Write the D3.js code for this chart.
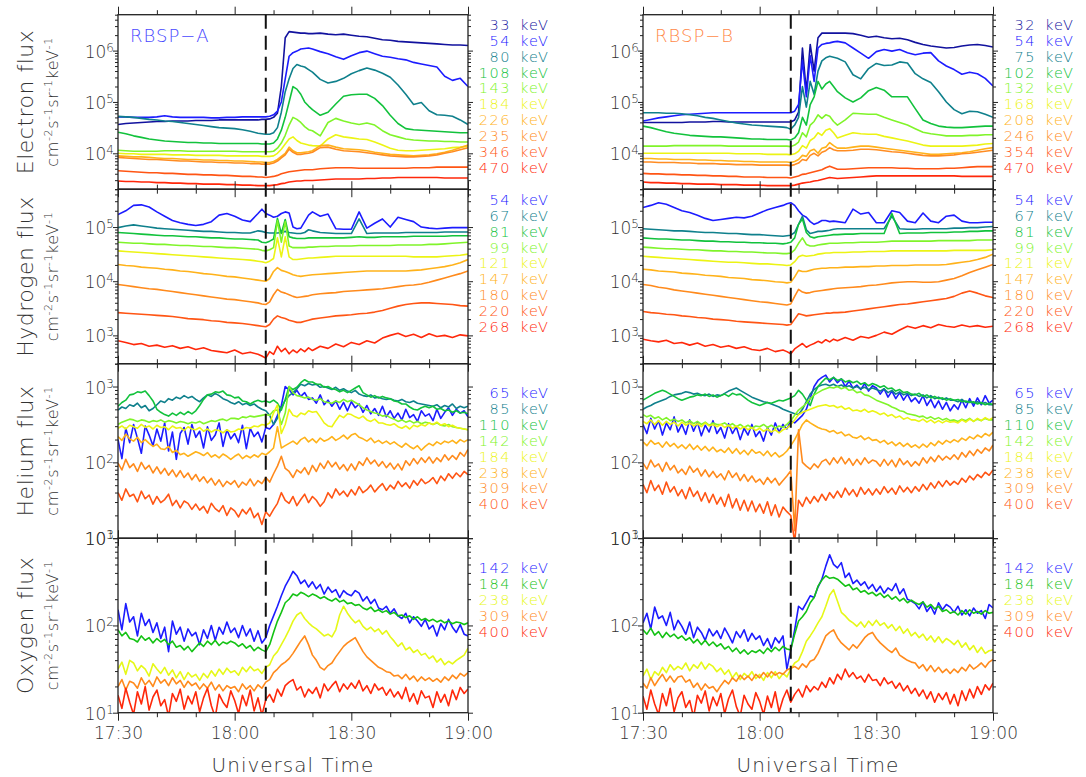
<!DOCTYPE html>
<html>
<head>
<meta charset="utf-8">
<script src="https://d3js.org/d3.v7.min.js"></script>
<style>
  body { margin: 0; background: #fff; }
  text { font-family: "DejaVu Sans", sans-serif; font-weight: 200; }
</style>
</head>
<body>
<svg id="chart" width="1086" height="777"></svg>
<script>
// sample times, minutes after 17:30 UT
var tCoarse = [0,2,4,6,8,10,12,14,16,18,20,22,24,26,28,30,32,34,36,37,38,39,40,41,42,43,44,45,46,47,48,49,50,52,54,56,58,60,62,64,66,68,70,72,74,76,78,80,82,84,86,88,90];
var tFine = d3.range(0, 91);
var onsetMin = 38; // 18:08 UT
var xMajor = [0, 30, 60, 90];
var xMinor = [10, 20, 40, 50, 70, 80];
var xTickLabels = ["17:30", "18:00", "18:30", "19:00"];

// all flux values below: log10(flux) x 100
// ---- electrons, RBSP-A
var eA33 = [456,458,459,460,461,462,462,463,463,463,464,464,464,465,465,465,465,465,465, 466,466,467,470,478,530,625,637,636,635,634,634,633,633, 634,632,631,632,630,628,627,624,621,620,618,617,616,615,614,613,612,611,611,610];
var eA54 = [471,471,470,470,470,471,473,471,470,470,470,470,469,469,470,470,471,471,471, 471,471,472,475,482,500,545,589,596,599,603,604,605,603, 598,594,588,583,590,596,599,594,589,587,584,582,577,574,571,568,550,542,546,530];
var eA80 = [472,471,470,468,466,465,463,462,460,458,456,454,452,450,449,448,446,443,439, 438,437,437,440,450,480,520,545,565,573,570,568,563,558, 544,537,540,546,555,561,566,562,556,548,533,515,495,499,483,475,474,472,465,456];
var eA108 = [441,438,434,431,428,426,424,423,422,421,421,420,420,419,419,419,419,419,419, 418,418,418,420,428,445,470,500,530,525,515,500,492,485, 474,480,496,511,514,515,515,507,493,474,458,448,446,445,444,443,442,441,440,440];
var eA143 = [406,405,404,404,404,404,405,405,405,404,404,404,404,404,404,404,403,403,403, 403,403,403,404,410,420,435,455,470,466,460,452,446,444, 434,460,468,463,459,456,459,455,444,436,432,428,426,425,424,424,423,423,422,422];
var eA184 = [400,399,399,398,398,398,398,397,397,397,396,396,396,396,395,395,395,395,395, 394,394,394,395,400,408,418,428,432,425,420,418,416,415, 414,428,436,432,430,428,427,422,416,410,406,405,405,406,407,408,409,411,412,414];
var eA226 = [395,394,393,393,392,391,390,390,389,388,388,387,387,386,386,385,385,384,383, 383,382,382,384,388,394,400,412,405,401,401,402,403,405, 415,416,412,409,408,407,405,402,400,398,397,396,395,396,397,399,402,406,411,416];
var eA235 = [392,391,390,389,388,388,387,386,385,385,384,383,383,382,382,381,381,380,380, 379,379,379,381,385,391,397,408,402,398,398,399,400,402, 411,412,408,405,404,403,401,399,397,395,394,393,393,394,395,397,400,403,407,411];
var eA346 = [366,365,364,363,362,362,361,361,360,359,359,358,358,357,357,356,355,355,354, 354,353,354,355,357,360,362,364,365,366,367,368,368,368, 370,371,372,372,372,371,371,371,371,371,371,371,372,372,372,373,373,373,373,373];
var eA470 = [346,345,345,344,344,343,343,342,342,341,341,340,340,340,339,339,338,338,337, 337,337,337,338,339,341,342,344,345,346,346,347,347,347, 348,349,350,350,350,350,351,351,352,352,353,353,353,353,353,353,352,352,352,352];

// ---- electrons, RBSP-B
var eB32 = [460,460,460,460,460,460,461,461,461,462,462,461,461,461,461,461,461,461,461, 461,461,465,480,605,520,612,560,625,634,634,634,634,634, 634,633,630,626,628,625,623,624,621,616,612,609,607,605,606,609,611,612,610,607];
var eB54 = [463,466,469,471,473,475,476,477,478,479,479,479,479,479,479,479,479,479,479, 479,479,482,495,580,510,590,540,605,612,614,615,617,618, 615,605,595,585,598,602,599,602,596,592,595,596,580,570,563,554,558,555,546,531];
var eB75 = [479,479,479,478,478,477,475,473,470,468,465,462,459,457,455,454,453,452,451, 450,447,455,470,530,490,540,515,560,580,586,589,587,585, 578,553,545,565,575,571,572,578,576,555,545,538,520,500,485,477,482,481,476,470];
var eB102 = [453,450,446,442,439,437,435,434,433,432,432,431,430,429,428,428,427,427,427, 427,426,430,440,470,455,495,510,540,525,535,540,530,520, 508,500,508,522,528,523,510,510,510,487,465,458,453,451,450,450,451,452,453,453];
var eB132 = [414,414,414,414,415,415,415,415,415,415,415,414,414,414,414,414,414,414,414, 414,413,416,422,440,432,455,462,475,468,475,472,462,455, 465,478,477,476,476,470,465,460,455,448,441,438,436,434,434,434,435,435,436,436];
var eB168 = [400,400,400,400,400,400,400,400,400,400,400,400,399,399,399,399,398,398,398, 398,397,399,404,415,410,425,430,440,435,445,448,440,430, 435,440,438,437,437,433,430,427,424,420,416,414,414,414,414,414,415,416,418,419];
var eB208 = [390,390,389,389,388,388,388,387,387,386,386,385,385,384,384,383,383,383,383, 383,382,384,388,396,394,405,408,400,410,412,421,415,410, 410,412,414,414,412,410,408,406,404,402,400,398,398,399,400,401,403,406,409,411];
var eB246 = [383,383,382,382,382,381,381,380,380,380,379,379,378,378,378,377,377,377,377, 377,376,378,381,388,386,396,400,395,402,405,411,407,405, 405,406,408,408,407,405,403,402,400,398,396,395,395,396,397,399,400,402,404,406];
var eB354 = [361,360,360,359,359,358,358,357,357,356,356,355,355,354,354,354,353,353,353, 353,352,354,356,359,360,362,364,366,368,372,375,372,369, 369,370,371,372,372,372,372,371,371,370,370,370,370,371,371,372,373,374,374,374];
var eB470 = [344,343,343,342,342,341,341,340,340,340,339,339,339,338,338,338,337,337,337, 337,337,338,340,342,343,344,346,347,349,351,353,352,351, 352,353,354,355,356,356,356,356,356,356,356,356,356,356,356,355,355,355,355,355];

// ---- hydrogen, RBSP-A
var hA54 = [523,530,540,541,537,528,520,512,508,505,503,505,510,522,525,520,513,510,525, 533,525,522,518,520,525,528,526,500,497,498,510,522,528, 520,524,497,496,496,528,498,507,515,500,518,514,510,500,498,497,498,499,499,499];
var hA67 = [499,502,504,502,500,498,497,496,495,494,493,492,492,491,490,490,489,489,493, 492,490,489,489,489,490,492,490,489,488,488,490,495,493, 490,489,488,488,488,515,488,489,489,489,489,490,490,490,490,490,491,491,491,491];
var hA81 = [490,489,488,487,486,485,484,484,483,482,482,481,480,480,479,478,478,477,476, 472,471,474,478,516,488,514,482,480,479,479,479,480,480, 480,480,480,480,481,482,481,481,482,482,482,482,483,483,483,483,483,484,484,484];
var hA99 = [472,471,470,470,469,468,468,467,466,466,465,464,464,463,462,462,461,460,459, 457,456,458,462,512,472,510,465,462,462,462,462,463,463, 464,464,465,465,465,466,466,466,466,466,467,467,467,467,468,468,469,470,471,472];
var hA121 = [456,455,454,453,452,451,450,449,448,447,446,445,444,443,442,441,440,439,437, 436,434,437,442,480,445,482,445,440,440,441,442,443,443, 444,445,446,446,446,446,446,446,446,446,446,446,445,445,445,445,446,447,448,450];
var hA147 = [431,429,428,426,425,424,422,421,419,418,416,414,413,411,409,408,406,404,402, 401,400,405,418,425,420,418,415,412,410,409,410,411,412, 413,414,415,416,417,418,419,419,419,419,419,419,420,421,423,425,427,430,434,440];
var hA180 = [394,392,390,388,386,385,383,381,379,377,375,373,371,369,367,366,364,362,360, 358,357,362,375,385,380,378,375,372,370,371,372,373,375, 377,378,379,381,382,383,384,385,386,388,390,392,393,395,398,402,406,410,414,419];
var hA220 = [342,341,340,339,338,337,336,335,333,331,330,329,327,326,324,323,322,320,318, 317,316,320,330,336,333,331,328,326,324,324,326,328,330, 332,334,336,337,338,340,341,343,346,350,354,357,359,360,360,359,358,357,355,354];
var hA268 = [290,287,283,285,280,282,278,281,276,279,274,277,272,270,268,273,266,269,265, 262,258,270,265,280,270,276,266,273,268,275,270,277,272, 280,276,284,279,287,283,290,286,295,300,304,298,302,296,303,298,300,296,301,299];

// ---- hydrogen, RBSP-B
var hB54 = [536,540,545,542,536,530,527,522,516,512,514,516,518,517,520,526,532,536,540, 543,545,540,530,522,518,510,505,508,512,512,510,511,510, 508,533,524,527,508,508,530,527,511,508,526,511,508,520,522,511,508,508,509,509];
var hB67 = [497,496,495,494,493,493,492,491,490,490,489,488,488,487,486,486,485,484,483, 484,485,490,505,520,495,488,490,492,492,493,494,496,497, 497,497,497,497,497,497,520,497,496,496,497,497,497,497,498,498,499,499,500,501];
var hB81 = [480,479,478,478,477,476,476,475,474,474,473,473,472,472,471,471,470,470,469, 470,472,480,505,515,490,482,480,482,483,484,485,486,486, 487,487,488,488,488,488,525,488,489,489,489,490,490,490,491,491,492,492,493,493];
var hB99 = [463,462,461,460,460,459,458,458,457,456,456,455,455,454,454,453,452,452,451, 451,452,458,470,480,468,465,465,467,468,469,470,470,470, 471,471,472,472,472,473,474,474,474,474,474,474,475,475,475,475,475,476,476,476];
var hB121 = [446,445,444,443,442,441,440,439,438,437,436,435,435,434,433,432,432,431,430, 429,430,436,445,448,446,447,448,450,451,452,452,453,453, 453,454,454,455,455,455,456,456,456,456,456,456,456,456,457,457,457,457,457,458];
var hB147 = [422,421,419,418,417,415,414,413,411,410,409,407,406,405,403,402,401,399,398, 397,398,408,420,418,418,420,422,423,424,424,425,425,425, 426,426,427,427,428,428,429,429,429,430,430,430,430,431,433,435,437,440,444,450];
var hB180 = [394,392,389,387,384,382,380,378,376,374,372,370,368,366,364,362,361,359,357, 356,358,372,385,380,378,379,381,382,383,384,385,386,387, 388,389,390,392,393,395,397,398,399,399,398,398,399,402,405,410,416,421,426,431];
var hB220 = [344,342,341,339,338,336,335,333,332,330,329,328,326,325,324,323,322,321,320, 319,320,330,340,338,336,337,338,339,340,341,341,342,342, 343,345,347,349,351,353,355,357,358,360,362,364,366,368,372,378,382,378,373,370];
var hB268 = [293,290,288,291,285,287,282,286,280,283,278,281,276,279,274,272,276,270,273, 270,266,275,280,285,278,282,285,289,286,292,288,293,290, 296,291,298,295,300,306,302,310,317,313,318,314,320,317,315,319,316,318,315,317];

// ---- helium, RBSP-A (1-min samples)
var heA65 = [230,205,245,226,250,232,212,248,236,222, 244,228,252,215,240,204,238,246,224,250, 233,241,219,247,229,236,252,221,243,231, 238,226,249,218,245,234,240,227,246,244, 250,262,275,300,296,289,295,287,292,283, 285,278,289,276,282,274,281,270,279,268, 280,272,277,266,275,264,271,262,274,260, 268,258,265,256,270,259,263,254,268,261, 264,255,270,258,266,272,262,270,265,268, 260];
var heA85 = [269,273,271,276,274,278,272,275,268,271, 276,281,279,284,282,286,284,288,285,287, 283,280,285,289,287,291,288,284,282,279, 277,280,276,278,275,277,273,270,268,262, 250,258,272,282,288,292,297,303,301,304, 302,303,299,300,298,296,299,295,297,294, 292,295,290,288,287,289,285,286,284,283, 284,282,281,283,280,279,281,278,277,276, 275,274,276,272,275,273,277,271,274,272, 274];
var heA110 = [274,279,282,289,290,293,292,294,288,281, 270,266,263,261,265,262,266,263,267,264, 268,275,283,289,290,293,292,294,289,288, 285,286,281,280,277,280,282,280,281,279, 282,278,269,283,300,296,299,305,309,306, 306,303,303,299,300,297,296,293,295,292, 295,298,301,292,289,286,288,285,287,285, 284,281,280,277,277,273,270,269,272,274, 272,274,270,271,268,269,266,268,265,266, 264];
var heA142 = [250,253,255,257,256,254,256,255,253,255, 254,256,253,255,254,252,254,253,251,253, 252,254,251,253,255,254,256,257,255,258, 258,257,260,259,261,260,261,262,263,262, 268,269,250,265,300,292,288,287,285,286, 283,282,284,280,279,278,281,279,283,280, 282,279,276,272,269,267,265,264,261,262, 259,257,254,256,253,255,252,254,251,253, 252,250,252,249,248,250,247,246,245,244, 243];
var heA184 = [245,248,244,249,247,245,250,246,248,244, 249,246,247,243,248,245,246,242,247,244, 243,246,241,244,240,243,242,239,243,240, 241,244,243,246,245,248,247,250,249,252, 265,276,238,250,270,262,260,265,263,268, 266,267,260,252,248,247,255,262,259,264, 263,260,258,261,256,254,257,252,252,250, 249,251,247,245,248,244,249,247,250,248, 252,250,253,249,251,247,249,246,245,244, 243];
var heA238 = [234,229,237,231,228,233,226,230,225,221, 224,218,217,221,213,216,210,212,208,211, 214,212,209,213,207,210,206,211,208,204, 208,211,205,209,206,210,207,212,210,214, 219,247,219,222,225,228,224,230,233,227, 231,226,232,228,230,234,229,232,236,231, 236,238,233,231,228,232,226,229,225,228, 224,227,223,220,225,221,218,222,216,221, 225,222,227,224,228,226,229,225,230,227, 230];
var heA309 = [199,190,204,193,198,188,200,191,196,186, 194,185,192,183,190,181,189,180,186,177, 184,175,181,173,179,170,177,168,175,171, 176,167,174,170,178,169,176,172,180,174, 185,195,208,192,188,180,190,186,193,184, 196,188,199,192,202,194,200,191,197,189, 198,190,201,196,206,198,203,195,201,193, 199,191,198,190,202,196,205,198,206,200, 207,199,206,201,210,203,209,204,213,208, 217];
var heA400 = [160,150,165,155,158,148,162,152,157,145, 155,147,151,158,143,150,140,149,146,138, 145,137,142,133,146,139,135,143,130,140, 136,128,138,132,140,127,133,118,135,129, 138,146,160,150,146,155,143,151,158,147, 155,150,142,148,160,153,165,157,162,155, 164,157,168,160,164,170,161,167,172,163, 170,165,175,168,173,166,176,170,178,172, 175,180,172,182,176,185,179,186,181,188, 184];

// ---- helium, RBSP-B
var heB65 = [250,238,258,244,255,236,252,243,260,240, 250,237,256,241,253,235,249,240,255,238, 246,232,251,238,247,230,245,236,250,234, 241,228,246,236,252,240,250,244,255,252, 257,262,270,285,300,308,312,315,306,312, 305,310,300,307,298,302,296,304,294,301, 298,290,297,286,294,284,292,282,290,280, 285,278,288,275,283,272,281,270,279,268, 276,270,282,272,284,274,285,276,288,278, 282];
var heB85 = [270,273,275,278,280,282,284,287,289,290, 291,293,292,290,291,289,288,290,287,289, 288,291,294,296,298,295,292,289,286,284, 282,280,279,277,275,273,270,268,266,264, 263,270,280,290,296,300,302,303,301,303, 300,302,299,301,298,300,297,299,296,298, 296,294,297,292,295,290,293,289,291,288, 290,287,289,285,288,284,286,283,285,282, 282,280,283,279,281,278,280,277,279,276, 276];
var heB110 = [282,285,288,291,293,295,293,290,287,284, 282,284,286,287,289,288,290,287,289,286, 288,290,287,291,289,290,286,282,279,277, 275,277,279,278,280,282,281,283,285,288, 295,290,282,275,290,300,306,311,309,312, 308,310,306,308,305,307,303,305,301,304, 302,299,301,297,298,294,296,292,293,290, 289,291,287,289,285,287,284,285,282,284, 282,283,280,281,279,280,277,279,276,278, 276];
var heB142 = [263,260,262,258,260,256,259,255,257,254, 256,252,255,251,254,250,253,249,252,250, 250,252,248,251,247,250,246,249,245,248, 247,250,246,249,245,248,246,250,255,262, 269,273,278,284,289,292,295,297,299,298, 300,297,299,295,296,292,293,289,288,285, 282,280,278,276,273,271,268,267,264,263, 262,260,261,258,260,257,259,256,258,255, 256,254,257,255,258,254,257,255,258,256, 256];
var heB184 = [254,251,256,250,255,249,254,250,253,248, 253,249,252,248,251,247,252,248,250,247, 250,246,249,245,248,244,247,243,246,242, 245,241,244,240,243,239,243,245,250,256, 263,266,268,270,272,274,275,276,274,275, 272,274,270,272,268,269,267,270,266,268, 266,263,265,261,263,259,261,257,259,256, 256,254,257,253,256,252,255,252,255,253, 254,252,256,253,257,254,258,255,259,256, 259];
var heB238 = [227,222,229,224,226,220,227,221,225,219, 223,218,224,217,222,216,221,215,220,214, 217,213,219,212,218,211,216,210,217,212, 214,209,215,208,213,207,210,215,222,230, 240,250,256,252,249,246,244,243,240,242, 238,240,235,237,233,232,235,230,233,229, 230,226,229,224,227,222,226,221,225,220, 223,219,224,220,226,222,228,224,229,226, 230,227,232,229,234,231,236,233,238,235, 240];
var heB309 = [199,191,203,194,198,188,200,190,196,186, 191,184,195,187,192,182,190,181,188,180, 185,177,189,180,186,176,184,175,182,174, 178,171,180,173,179,170,176,182,189,110, 243,200,195,191,198,193,201,204,197,206, 199,207,198,205,196,204,197,206,199,203, 201,195,204,196,203,194,205,197,202,195, 201,196,206,199,207,201,209,203,208,204, 210,204,213,207,215,209,217,212,219,215, 223];
var heB400 = [171,160,176,163,170,158,174,161,168,156, 164,152,167,155,162,149,160,147,158,145, 154,142,158,140,152,137,150,136,149,135, 145,133,148,130,144,128,141,135,130,95, 150,142,154,146,155,148,158,150,160,153, 162,154,166,157,164,155,167,158,165,157, 165,158,168,160,166,158,169,161,167,160, 168,162,171,164,173,166,175,168,176,170, 175,171,179,174,182,177,184,180,187,183, 190];

// ---- oxygen, RBSP-A
var oA142 = [218,195,225,204,210,188,214,200,207,192, 203,185,198,170,205,190,198,182,196,188, 192,178,195,185,200,183,198,190,204,192, 197,186,200,188,196,182,194,180,186,200, 211,222,234,245,253,262,257,248,252,244, 250,242,247,236,244,238,241,232,240,236, 234,240,237,228,233,225,230,220,218,222, 214,219,211,208,214,203,210,205,199,207, 196,200,188,202,195,207,198,192,201,190, 188];
var oA184 = [195,188,192,185,184,181,188,183,186,180, 185,181,184,178,182,175,177,172,176,170, 175,180,176,182,178,183,177,181,179,182, 180,176,179,174,177,171,175,172,170,178, 192,205,215,226,230,236,234,238,236,233, 236,234,231,233,230,228,231,227,229,225, 226,223,224,220,218,221,216,218,215,217, 213,215,211,212,209,211,207,210,206,208, 205,207,204,206,203,205,202,204,203,201, 203];
var oA238 = [150,158,144,160,157,148,154,150,142,156, 150,145,152,143,149,140,147,138,146,141, 144,137,145,140,148,142,150,144,151,146, 148,143,152,147,153,148,150,145,152,155, 165,170,178,186,195,205,212,215,208,203, 199,196,192,188,190,187,195,212,222,214, 208,203,206,199,195,198,193,196,190,194, 187,182,176,180,172,175,169,172,166,168, 162,165,158,162,155,159,156,160,163,166, 174];
var oA309 = [130,138,126,136,134,128,140,132,137,130, 141,134,138,131,140,133,137,129,136,131, 134,127,133,128,135,126,132,125,131,128, 130,124,133,127,131,125,132,128,135,138, 146,150,155,158,162,168,175,182,188,178, 166,160,152,149,154,157,164,170,176,180, 183,186,178,170,164,160,156,152,150,147, 146,142,143,139,144,138,142,136,141,137, 140,136,139,135,141,137,143,139,145,142, 146];
var oA400 = [120,105,128,112,98,124,110,130,103,118, 126,108,115,96,122,113,127,104,119,110, 124,101,117,128,108,95,121,112,106,125, 114,99,120,108,126,102,117,97,115,121, 112,127,119,131,135,138,126,130,118,127, 122,129,117,133,125,131,136,124,133,127, 134,128,137,125,131,122,133,126,129,120, 127,118,124,116,129,113,122,110,125,117, 119,106,124,112,121,108,126,115,129,122, 127];

// ---- oxygen, RBSP-B
var oB142 = [203,214,196,221,208,211,200,215,195,206, 199,190,204,186,198,192,183,196,188,194, 185,197,189,180,193,186,195,182,191,184, 188,177,185,174,186,180,188,150,172,195, 222,218,226,234,232,244,253,268,281,270, 266,272,255,260,248,252,246,250,242,247, 239,245,237,243,240,248,236,242,230,228, 225,219,227,216,222,213,226,218,224,221, 215,222,212,218,211,220,214,217,208,224, 220];
var oB184 = [195,190,197,189,193,186,192,187,190,185, 188,183,186,180,184,178,183,177,181,176, 179,173,176,170,174,168,172,167,171,169, 172,168,174,170,175,171,176,173,172,190, 205,210,216,226,232,245,252,257,254,255, 253,249,245,247,241,243,238,240,236,238, 234,237,232,235,230,233,228,231,226,229, 226,224,227,221,224,219,222,216,218,214, 216,212,217,213,218,214,216,213,217,214, 215];
var oB238 = [142,150,138,147,143,152,146,155,149,153, 150,157,148,155,151,158,150,156,153,147, 151,144,149,140,146,138,145,141,147,139, 144,137,146,140,147,139,145,141,150,157, 160,170,182,188,195,203,210,222,235,241, 228,215,211,206,203,199,204,198,205,200, 206,200,203,197,201,194,199,191,196,188, 192,186,190,183,188,181,187,180,185,182, 178,183,175,180,172,177,169,175,168,171, 172];
var oB309 = [134,128,140,131,138,144,136,142,135,141, 142,135,138,129,134,126,133,128,130,124, 131,137,133,140,136,143,138,142,137,144, 140,146,141,147,143,146,144,149,151,153, 150,156,152,159,161,168,178,188,192,195, 186,180,176,172,178,174,180,186,190,192, 185,180,176,172,169,174,166,163,160,158, 157,151,155,148,154,147,152,146,150,145, 150,146,152,148,155,150,153,157,152,158, 161];
var oB400 = [119,104,126,110,98,122,108,128,101,117, 124,106,114,95,120,111,125,102,118,108, 122,99,116,126,107,96,120,110,104,123, 113,98,119,106,124,101,116,126,112,121, 127,118,131,124,130,126,135,129,140,133, 144,138,150,141,146,139,142,135,144,137, 138,131,140,133,136,128,134,125,131,122, 128,119,126,116,124,112,122,115,123,110, 121,108,125,114,127,117,130,121,132,126, 134];

// channel energies (keV) and colours
var kevEA = [33, 54, 80, 108, 143, 184, 226, 235, 346, 470];
var kevEB = [32, 54, 75, 102, 132, 168, 208, 246, 354, 470];
var kevH = [54, 67, 81, 99, 121, 147, 180, 220, 268];
var kevHe = [65, 85, 110, 142, 184, 238, 309, 400];
var kevO = [142, 184, 238, 309, 400];
var colE = ["#12129e", "#1c1cff", "#0f808c", "#12c23c", "#80f42a", "#ecf414", "#ffb21a", "#ff8c22", "#ff5514", "#ff280a"];
var colH = ["#1c1cff", "#0f808c", "#12c23c", "#80f42a", "#ecf414", "#ffb21a", "#ff8a1c", "#ff5514", "#ff280a"];
var colHe = ["#1c1cff", "#0f808c", "#12c23c", "#80f42a", "#ecf414", "#ffb21a", "#ff8a1c", "#ff5514"];
var colO = ["#1c1cff", "#14c214", "#e6f818", "#ff8a1c", "#ff280a"];
var rowTitles = ["Electron flux", "Hydrogen flux", "Helium flux", "Oxygen flux"];
var unitParts = [["cm", "-2"], ["s", "-1"], ["sr", "-1"], ["keV", "-1"]];

var panels = [
  {row: 0, col: 0, t: tCoarse, dom: [2e3, 5e6], data: [eA33, eA54, eA80, eA108, eA143, eA184, eA226, eA235, eA346, eA470], kev: kevEA, colors: colE},
  {row: 0, col: 1, t: tCoarse, dom: [2e3, 5e6], data: [eB32, eB54, eB75, eB102, eB132, eB168, eB208, eB246, eB354, eB470], kev: kevEB, colors: colE},
  {row: 1, col: 0, t: tCoarse, dom: [3e2, 5e5], data: [hA54, hA67, hA81, hA99, hA121, hA147, hA180, hA220, hA268], kev: kevH, colors: colH},
  {row: 1, col: 1, t: tCoarse, dom: [3e2, 5e5], data: [hB54, hB67, hB81, hB99, hB121, hB147, hB180, hB220, hB268], kev: kevH, colors: colH},
  {row: 2, col: 0, t: tFine, dom: [1e1, 2e3], data: [heA65, heA85, heA110, heA142, heA184, heA238, heA309, heA400], kev: kevHe, colors: colHe},
  {row: 2, col: 1, t: tFine, dom: [1e1, 2e3], data: [heB65, heB85, heB110, heB142, heB184, heB238, heB309, heB400], kev: kevHe, colors: colHe},
  {row: 3, col: 0, t: tFine, dom: [1e1, 1e3], data: [oA142, oA184, oA238, oA309, oA400], kev: kevO, colors: colO},
  {row: 3, col: 1, t: tFine, dom: [1e1, 1e3], data: [oB142, oB184, oB238, oB309, oB400], kev: kevO, colors: colO}
];

// layout
var svg = d3.select("#chart");
var colX = [[118, 468], [643, 993]];
var rowTop = 14.7, rowH = 174.5;
var legendTop = [10.3, 10.8, 29.6, 30.1];
var legendStep = 15.85;
var ink = "#222";

function ticksAxis(axis, vals, size, tr) {
  var a = svg.append("g").attr("transform", tr)
    .call(axis.tickValues(vals).tickSize(size).tickFormat(""));
  a.select(".domain").remove();
  a.selectAll("line").attr("stroke", ink).attr("stroke-width", 1);
  return a;
}

panels.forEach(function(p) {
  var x0 = colX[p.col][0], x1 = colX[p.col][1];
  var top = rowTop + p.row * rowH, bottom = top + rowH;
  var x = d3.scaleLinear().domain([0, 90]).range([x0, x1]);
  var y = d3.scaleLog().domain(p.dom).range([bottom, top]);
  var id = "clip" + p.row + "_" + p.col;

  svg.append("clipPath").attr("id", id).append("rect")
    .attr("x", x0).attr("y", top).attr("width", x1 - x0).attr("height", rowH);

  var line = d3.line()
    .x(function(d) { return x(d[0]); })
    .y(function(d) { return y(Math.pow(10, d[1] / 100)); });

  var g = svg.append("g").attr("clip-path", "url(#" + id + ")");
  p.data.forEach(function(s, i) {
    g.append("path")
      .datum(p.t.map(function(t, j) { return [t, s[j]]; }))
      .attr("d", line)
      .attr("fill", "none")
      .attr("stroke", p.colors[i])
      .attr("stroke-width", 1.6)
      .attr("stroke-linejoin", "round");
  });

  // frame
  svg.append("rect").attr("x", x0).attr("y", top).attr("width", x1 - x0).attr("height", rowH)
    .attr("fill", "none").attr("stroke", ink).attr("stroke-width", 1.3);

  // y ticks
  var lo = Math.floor(Math.log10(p.dom[0])), hi = Math.ceil(Math.log10(p.dom[1]));
  var major = [], minor = [];
  for (var e = lo; e <= hi; e++) {
    for (var m = 1; m < 10; m++) {
      var v = m * Math.pow(10, e);
      if (v < p.dom[0] * 0.999 || v > p.dom[1] * 1.001) continue;
      if (m === 1) major.push(v); else minor.push(v);
    }
  }
  ticksAxis(d3.axisLeft(y), major, 5, "translate(" + x0 + ",0)");
  ticksAxis(d3.axisLeft(y), minor, 3, "translate(" + x0 + ",0)");
  ticksAxis(d3.axisRight(y), major, 5, "translate(" + x1 + ",0)");
  ticksAxis(d3.axisRight(y), minor, 3, "translate(" + x1 + ",0)");

  // x ticks
  ticksAxis(d3.axisTop(x), xMajor, 8, "translate(0," + top + ")");
  ticksAxis(d3.axisTop(x), xMinor, 4.5, "translate(0," + top + ")");
  ticksAxis(d3.axisBottom(x), xMinor, 4.5, "translate(0," + bottom + ")");
  var bx = svg.append("g").attr("transform", "translate(0," + bottom + ")")
    .call(d3.axisBottom(x).tickValues(xMajor).tickSize(8).tickPadding(6)
      .tickFormat(function(d, i) { return p.row === 3 ? xTickLabels[i] : ""; }));
  bx.select(".domain").remove();
  bx.selectAll("line").attr("stroke", ink).attr("stroke-width", 1);
  bx.selectAll("text").attr("font-family", null).attr("font-size", 17).attr("fill", "#333");

  // decade labels 10^n
  major.forEach(function(v) {
    var t = svg.append("text")
      .attr("x", x0 - 4).attr("y", y(v) + 7)
      .attr("text-anchor", "end").attr("font-size", 17).attr("fill", "#333");
    t.append("tspan").text("10");
    t.append("tspan").attr("dy", -6).attr("font-size", 12).text(Math.round(Math.log10(v)));
  });

  // legend
  p.kev.forEach(function(k, i) {
    var ly = top + legendTop[p.row] + i * legendStep + 5;
    svg.append("text").attr("x", x1 + 43).attr("y", ly).attr("text-anchor", "end")
      .attr("font-size", 14.5).attr("letter-spacing", 1.5).attr("fill", p.colors[i]).text(k);
    svg.append("text").attr("x", x1 + 52).attr("y", ly)
      .attr("font-size", 14.5).attr("letter-spacing", 1.2).attr("fill", p.colors[i]).text("keV");
  });

  // row titles, left column only
  if (p.col === 0) {
    var cy = (top + bottom) / 2;
    svg.append("text").attr("transform", "translate(33," + cy + ") rotate(-90)")
      .attr("text-anchor", "middle").attr("font-size", 22).attr("letter-spacing", 0.5)
      .attr("fill", "#333").text(rowTitles[p.row]);
    var u = svg.append("text").attr("transform", "translate(58," + cy + ") rotate(-90)")
      .attr("text-anchor", "middle").attr("font-size", 16).attr("letter-spacing", 0.6).attr("fill", "#333");
    unitParts.forEach(function(pr, i) {
      u.append("tspan").attr("dy", i ? 6 : 0).text(pr[0]);
      u.append("tspan").attr("dy", -6).attr("font-size", 11).text(pr[1]);
    });
  }
});

// onset marker at 18:08 in both columns
colX.forEach(function(c) {
  var x = d3.scaleLinear().domain([0, 90]).range(c);
  svg.append("line")
    .attr("x1", x(onsetMin)).attr("x2", x(onsetMin))
    .attr("y1", rowTop).attr("y2", rowTop + 4 * rowH)
    .attr("stroke", "#111").attr("stroke-width", 2).attr("stroke-dasharray", "14,7");
  svg.append("text").attr("x", (c[0] + c[1]) / 2).attr("y", 772)
    .attr("text-anchor", "middle").attr("font-size", 20).attr("letter-spacing", 1)
    .attr("fill", "#333").text("Universal Time");
});

svg.append("text").attr("x", 130).attr("y", 42).attr("font-size", 18).attr("letter-spacing", 1)
  .attr("fill", "#4848ff").text("RBSP\u2212A");
svg.append("text").attr("x", 655).attr("y", 42).attr("font-size", 18).attr("letter-spacing", 1)
  .attr("fill", "#ff8848").text("RBSP\u2212B");
</script>
</body>
</html>
